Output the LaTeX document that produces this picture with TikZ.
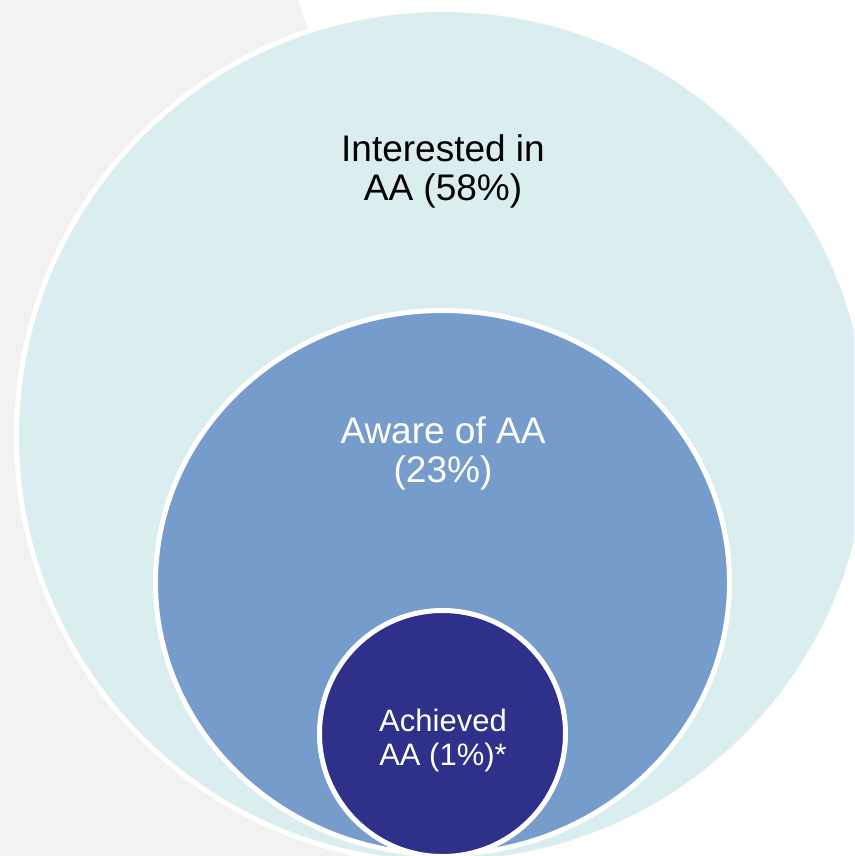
\documentclass[tikz,border=0pt]{standalone}
\usepackage{fontspec}
\setmainfont{Liberation Sans}
\definecolor{bggrey}{HTML}{F2F2F2}
\definecolor{teal1}{HTML}{DAEDEF}
\definecolor{midblue}{HTML}{769CCB}
\definecolor{darkblue}{HTML}{2E3089}
\tikzset{
  ring/.style={draw=white, line width=5pt},
  bigtext/.style={align=center, inner sep=0pt, font=\fontsize{37}{39}\selectfont},
  smalltext/.style={align=center, inner sep=0pt, font=\fontsize{31}{34}\selectfont, text=white}
}
\begin{document}
\begin{tikzpicture}[x=1pt, y=-1pt]
\useasboundingbox (0,0) rectangle (854,856);
\begin{scope}
\clip (0,0) rectangle (854,856);
\fill[white] (0,0) rectangle (854,856);
\fill[bggrey] (0,0) -- (298,0) -- (587,838) -- (495,860) -- (0,860) -- cycle;
\filldraw[fill=teal1, ring] (443,436) circle [radius=426.5];
\filldraw[fill=midblue, ring] (442.5,582.5) ellipse [x radius=287, y radius=272];
\filldraw[fill=darkblue, ring] (442.5,733.5) circle [radius=123];
\end{scope}
\node[bigtext] (interested) at (443,171) {Interested in\\AA (58\%)};
\node[bigtext, text=white] (aware) at (443,453) {Aware of AA\\(23\%)};
\node[smalltext] (achieved) at (443,740) {Achieved\\AA (1\%)*};
\end{tikzpicture}
\end{document}
